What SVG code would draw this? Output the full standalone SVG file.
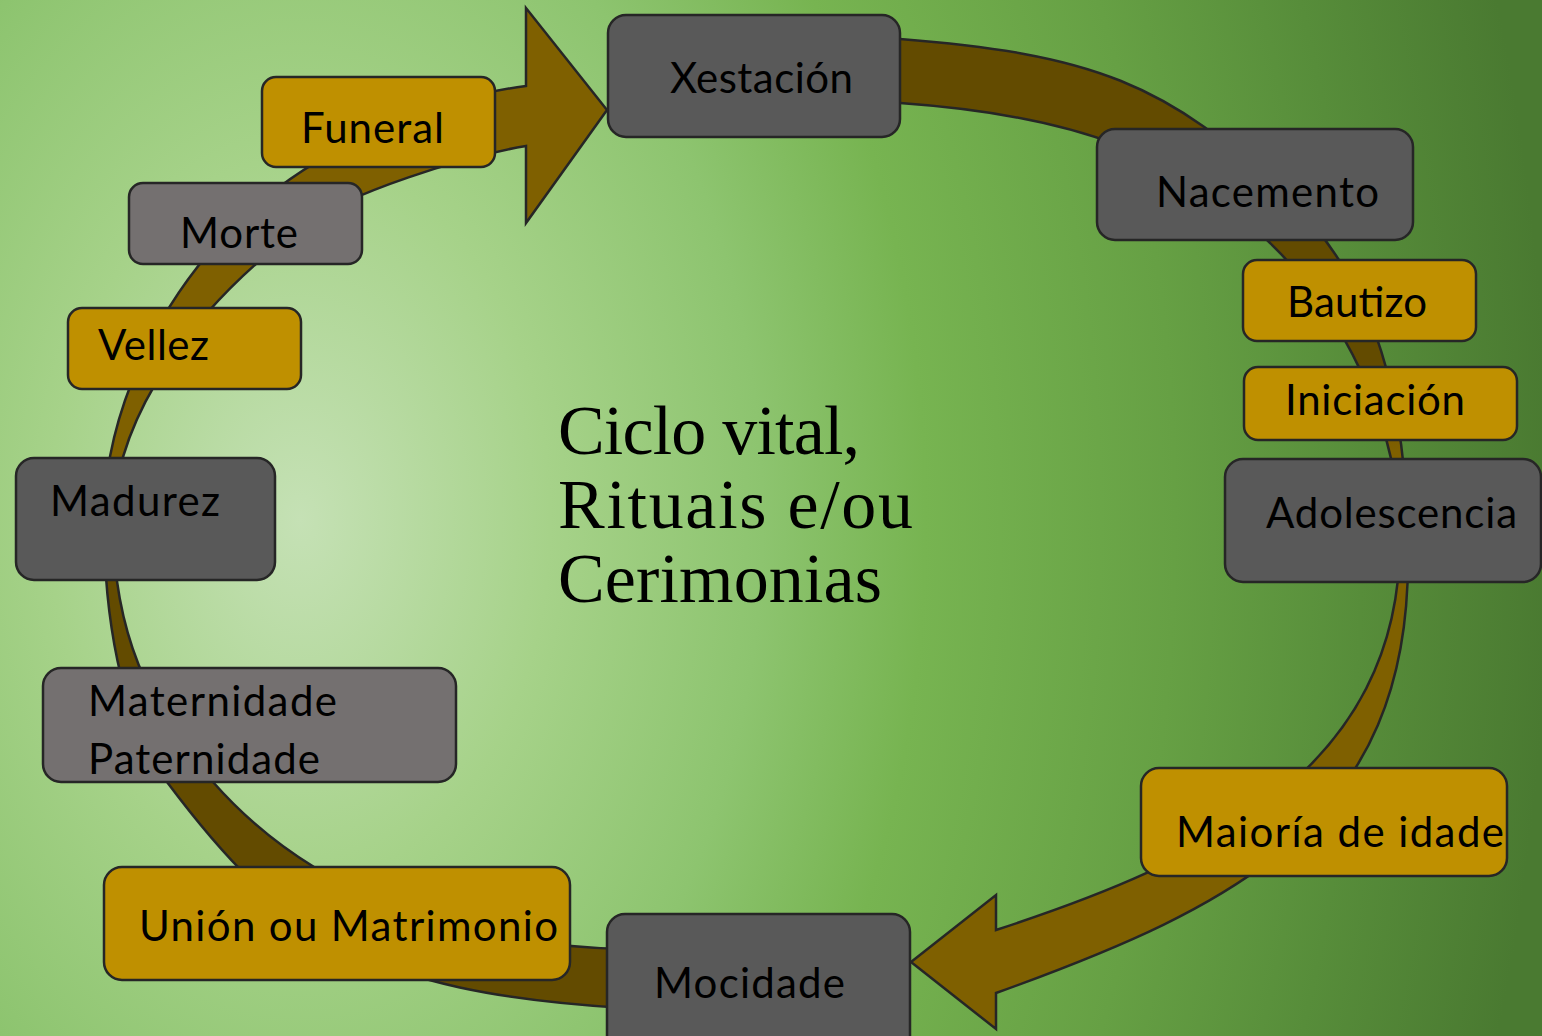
<svg xmlns="http://www.w3.org/2000/svg" width="1542" height="1036" viewBox="0 0 1542 1036">
<defs>
<radialGradient id="bg" gradientUnits="userSpaceOnUse" cx="300" cy="520" r="1250" gradientTransform="translate(300 520) scale(1 1.45) translate(-300 -520)">
<stop offset="0" stop-color="#C5E1B5"/>
<stop offset="0.2" stop-color="#A6D289"/>
<stop offset="0.37" stop-color="#8DC46F"/>
<stop offset="0.5" stop-color="#77B451"/>
<stop offset="0.7" stop-color="#66A044"/>
<stop offset="0.85" stop-color="#578D3A"/>
<stop offset="1" stop-color="#4A7A31"/>
</radialGradient>
<linearGradient id="g1" gradientUnits="userSpaceOnUse" x1="0" y1="360" x2="0" y2="450">
<stop offset="0" stop-color="#634B00"/>
<stop offset="1" stop-color="#7F6000"/>
</linearGradient>
<linearGradient id="g2" gradientUnits="userSpaceOnUse" x1="0" y1="580" x2="0" y2="460">
<stop offset="0" stop-color="#634B00"/>
<stop offset="1" stop-color="#7F6000"/>
</linearGradient>
</defs>
<style>
.arr{stroke:#262626;stroke-width:2.5;stroke-linejoin:miter}
.box{stroke:#262626;stroke-width:2.5}
.dark{fill:#595959}
.grey{fill:#747070}
.gold{fill:#BF9000}
.lbl{font-family:Lato,"Open Sans","Liberation Sans",sans-serif;font-size:42px;fill:#000}
.title{font-family:"Liberation Serif","DejaVu Serif",serif;font-size:70px;fill:#000}
</style>
<rect x="0" y="0" width="1542" height="1036" fill="url(#bg)"/>
<g id="connectors">
<path class="arr" fill="url(#g1)" d="M 870 38 L 900 39 C 1090 54.2 1168 81.5 1290 200 C 1376 283.6 1408 400 1408 560 C 1408 820 1240 905 996 993 L 996 1029 L 911 962 L 996 895 L 996 930 C 1205 862 1400 770 1400 540 C 1400 420 1339.5 309 1267 240 C 1180 157.2 1080 115.6 900 103 L 870 103 Z"/>
<path class="arr" fill="url(#g2)" d="M 640 1008 L 625 1008 C 365 992.4 281 934 167 782 C 119 718 104 610 104 520 C 104 420 153.6 302.8 240 220 C 297.6 164.8 406 101.6 526 86 L 526 8 L 607 110 L 526 223 L 526 146 C 466 156.2 348 192 300 228 C 196 306 113 415 113 525 C 114 630 147 707 213 782 C 305.4 887 445 945.4 625 949 L 640 949 Z"/>
</g>
<g id="title">
<text class="title" x="558" y="454" textLength="302">Ciclo vital,</text>
<text class="title" x="558" y="528" textLength="355">Rituais e/ou</text>
<text class="title" x="558" y="602" textLength="324">Cerimonias</text>
</g>
<g id="xestacion"><rect class="box dark" x="608" y="15" width="292" height="122" rx="18"/><text class="lbl" x="670" y="93" textLength="183">Xestación</text></g>
<g id="nacemento"><rect class="box dark" x="1097" y="129" width="316" height="111" rx="18"/><text class="lbl" x="1156" y="207" textLength="223">Nacemento</text></g>
<g id="bautizo"><rect class="box gold" x="1243" y="260" width="233" height="81" rx="14"/><text class="lbl" x="1287" y="317" textLength="140">Bautizo</text></g>
<g id="iniciacion"><rect class="box gold" x="1244" y="367" width="273" height="73" rx="14"/><text class="lbl" x="1285" y="415" textLength="180">Iniciación</text></g>
<g id="adolescencia"><rect class="box dark" x="1225" y="459" width="316" height="123" rx="18"/><text class="lbl" x="1266" y="528" textLength="251">Adolescencia</text></g>
<g id="maioria"><rect class="box gold" x="1141" y="768" width="366" height="108" rx="18"/><text class="lbl" x="1176" y="847" textLength="328">Maioría de idade</text></g>
<g id="mocidade"><rect class="box dark" x="607" y="914" width="303" height="140" rx="18"/><text class="lbl" x="654" y="998" textLength="191">Mocidade</text></g>
<g id="union"><rect class="box gold" x="104" y="867" width="466" height="113" rx="18"/><text class="lbl" x="139" y="941" textLength="419">Unión ou Matrimonio</text></g>
<g id="maternidade"><rect class="box grey" x="43" y="668" width="413" height="114" rx="18"/><text class="lbl" x="88" y="716" textLength="249">Maternidade</text><text class="lbl" x="88" y="774" textLength="232">Paternidade</text></g>
<g id="madurez"><rect class="box dark" x="16" y="458" width="259" height="122" rx="18"/><text class="lbl" x="50" y="516" textLength="170">Madurez</text></g>
<g id="vellez"><rect class="box gold" x="68" y="308" width="233" height="81" rx="14"/><text class="lbl" x="98" y="360" textLength="111">Vellez</text></g>
<g id="morte"><rect class="box grey" x="129" y="183" width="233" height="81" rx="14"/><text class="lbl" x="180" y="248" textLength="118">Morte</text></g>
<g id="funeral"><rect class="box gold" x="262" y="77" width="233" height="90" rx="14"/><text class="lbl" x="301" y="143" textLength="143">Funeral</text></g>
</svg>
